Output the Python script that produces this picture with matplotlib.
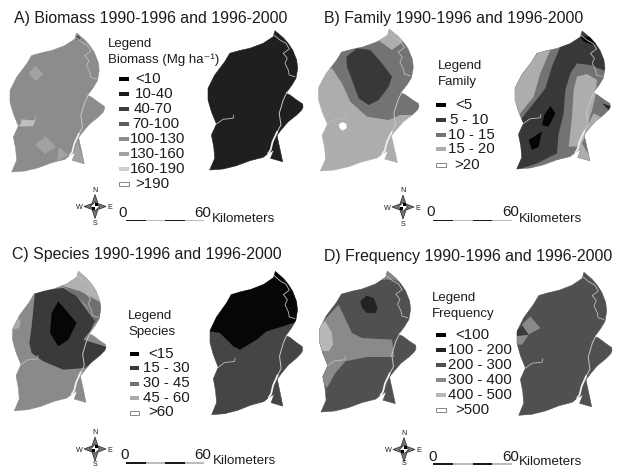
import matplotlib
matplotlib.use("Agg")
import matplotlib.pyplot as plt
from matplotlib.patches import Polygon, Rectangle

plt.rcParams['font.family'] = ['Liberation Sans', 'DejaVu Sans']

# ---- text content
TITLES = ["A) Biomass 1990-1996 and 1996-2000", "B) Family 1990-1996 and 1996-2000",
          "C) Species 1990-1996 and 1996-2000", "D) Frequency 1990-1996 and 1996-2000"]
LEGEND_A = ["<10", "10-40", "40-70", "70-100", "100-130", "130-160", "160-190", ">190"]
LEGEND_B = ["<5", "5 - 10", "10 - 15", "15 - 20", ">20"]
LEGEND_C = ["<15", "15 - 30", "30 - 45", "45 - 60", ">60"]
LEGEND_D = ["<100", "100 - 200", "200 - 300", "300 - 400", "400 - 500", ">500"]

# ---- map geometry (outline and rivers: pixels of the upper right map)
OUTLINE = [(275,30.7),(283.3,37.7),(288,43),(292.7,50),(296.7,60),(297.7,68.3),(296,78.3),(292,85),(288.3,90),(286,93.3),
           (290,95),(296.7,100),(302.7,104),(303,107),(301.7,110),(296.7,115),(288.3,121.7),(281.7,129.3),(277.3,135),
           (277.3,136.7),(280,149),(282.7,161.7),(270.7,158.3),(274,150),(268.3,153.3),(263.3,157.3),(250,160.7),
           (236.7,165.7),(223.3,169),(210,170),(215,158.3),(214,146.7),(211.7,135),(216.7,124),(211.7,111.7),(208.3,100),
           (208.3,88.3),(215,75),(225,61.7),(230,53.3),(240,50.5),(250,48.3),(263.3,43.3),(273.3,36.7)]
RIVER_UP = [(274,35),(280,40),(286,43.3),(289.3,49),(283.3,53.3),(287.3,58.3),(285,63.3),(288.3,70),(289.3,75),(295,76.7)]
RIVER_MID = [(287.3,91.7),(283.3,100),(279.3,113.3),(281,125),(277.3,131.7)]
RIVER_LOW = [(277.3,131.7),(272.7,141.7),(270.7,150),(268.3,153.3)]
RIVER_WEST = [(234,115),(233.3,118.3),(223.3,119.3),(216.7,124)]

# regions: 3x crop units of each panel
A1_DIAMOND_1 = [(107,197),(130,222),(107,243),(85,220)]
A1_DIAMOND_2 = [(137,408),(168,440),(135,462),(105,435)]
A1_DIAMOND_3 = [(176,440),(205,465),(172,482)]
A1_LOBE = [(232,420),(252,490),(215,485)]
A1_TIP = [(235,105),(242,115),(230,122),(226,112)]
A1_LIGHT = [(65,358),(105,362),(100,378),(60,380)]

B1_MID = [(50,215),(90,150),(210,118),(255,150),(295,120),(345,200),(345,345),(280,345),(245,360),
          (180,350),(130,305),(105,250),(75,205)]
B1_DARK = [(118,170),(150,145),(190,150),(225,190),(255,230),(245,260),(215,300),(185,315),(155,295),(135,240),(120,200)]
B1_HOLE = [(107,366),(118,372),(119,384),(107,392),(97,384),(96,372)]

B2_WEST = [(695,155),(730,150),(700,220),(680,290),(640,340),(600,340),(620,260)]
B2_DARK = [(760,140),(820,80),(920,150),(900,215),(850,195),(810,190),(790,220),(775,270),(770,340),(755,400),
           (750,460),(690,490),(600,520),(600,400),(640,360),(680,310),(715,265),(735,200)]
B2_EAST = [(800,270),(810,230),(840,222),(870,240),(865,290),(855,330),(840,380),(825,420),(810,440),(785,440),(795,350)]
B2_EAST_2 = [(860,340),(880,350),(840,400),(825,430),(860,490),(800,490),(810,440)]
B2_TIP = [(820,110),(850,110),(880,125),(860,135),(830,125)]
B2_SPOT_1 = [(730,318),(745,340),(725,380),(705,375),(712,345)]
B2_SPOT_2 = [(705,395),(695,440),(675,450),(665,420)]
B2_LOBE_TIP = [(885,310),(915,320),(905,330)]

C1_TIP = [(190,160),(235,100),(310,110),(305,210),(240,175)]
C1_MID = [(190,160),(240,175),(305,210),(310,245),(285,270),(260,215)]
C1_DARK = [(105,180),(140,170),(190,165),(230,190),(285,265),(270,295),(250,320),(330,345),(300,370),(255,405),
           (190,410),(130,385),(95,360),(88,330),(95,280)]
C1_CORE = [(175,205),(230,270),(205,320),(175,340),(150,300),(155,240)]
C1_WEST = [(50,250),(62,265),(58,285),(40,290)]

C2_TOP = [(630,295),(660,300),(700,340),(720,350),(770,320),(800,295),(880,270),(930,250),(920,90),(600,90)]

D1_TIP = [(215,140),(240,105),(310,105),(295,155),(260,140)]
D1_MID = [(48,265),(95,215),(135,300),(165,315),(255,320),(262,372),(180,372),(115,385),(85,420),(60,465),(20,420),(20,260)]
D1_LIGHT = [(55,265),(75,300),(78,335),(65,355),(25,350),(25,280)]
D1_CORE = [(160,205),(178,188),(200,195),(212,225),(205,240),(180,240),(165,225)]

D2_DIAMOND = [(670,250),(700,285),(665,305),(645,275)]
D2_WEDGE = [(625,310),(665,305),(645,335),(625,335)]
D2_DARK = [(630,290),(645,280),(665,305),(630,308)]

# ---- styling
DARK_TXT = '#1c1c1c'
fig = plt.figure(figsize=(6.17, 4.68), dpi=100)
ax = fig.add_axes([0, 0, 1, 1])
ax.set_xlim(0, 617); ax.set_ylim(468, 0); ax.axis('off')

XS0, YS0 = zip(*OUTLINE)
BX0, BX1, BY0, BY1 = min(XS0), max(XS0), min(YS0), max(YS0)


def to_px(pts, origin):
    return [(origin[0] + x / 3, origin[1] + y / 3) for x, y in pts]


def draw_map(box, base, regions):
    """box (xmin, xmax, ymin, ymax) places the outline; regions hold (points, crop origin, grey)."""
    x0, x1, y0, y1 = box
    def place(pts):
        return [(x0 + (x - BX0) * (x1 - x0) / (BX1 - BX0), y0 + (y - BY0) * (y1 - y0) / (BY1 - BY0)) for x, y in pts]
    clip = Polygon(place(OUTLINE), closed=True, fc=base, ec=base, lw=0.4, joinstyle='round', zorder=2)
    ax.add_patch(clip)
    for pts, origin, grey in regions:
        p = Polygon(to_px(pts, origin), closed=True, fc=grey, ec='none', zorder=3)
        ax.add_patch(p)
        p.set_clip_path(clip)
    for river, lw, col in ((RIVER_UP, 0.6, '#bdbdbd'), (RIVER_MID, 0.7, '#c8c8c8'),
                           (RIVER_WEST, 0.6, '#bdbdbd'), (RIVER_LOW, 1.3, '#f0f0f0')):
        xs, ys = zip(*place(river))
        ax.plot(xs, ys, color=col, lw=lw, zorder=4, solid_capstyle='round')


def draw_legend(head, head_pos, labels, label_xs, ys, sw_x, greys):
    for txt, (x, y) in zip(head, head_pos):
        ax.text(x, y, txt, fontsize=9.5, va='center', ha='left', color=DARK_TXT, zorder=6)
    for lab, lx, y, g in zip(labels, label_xs, ys, greys):
        is_top = g == 'white'
        ax.add_patch(Rectangle((sw_x, y - 2), 9.5, 4, fc=g, ec='#888888' if is_top else 'none', lw=0.7, zorder=5))
        ax.text(lx, y - 0.3, lab, fontsize=10.8, va='center', ha='left', color=DARK_TXT, zorder=6)


def draw_compass(cx, cy, s_dy=17):
    k = '#222222'
    ax.add_patch(Polygon([(cx-11, cy), (cx-3, cy-3), (cx, cy-12), (cx+3, cy-3), (cx+11, cy), (cx+3, cy+3), (cx, cy+12), (cx-3, cy+3)],
                         closed=True, fc='#777777', ec=k, lw=0.5, zorder=5))
    ax.add_patch(Polygon([(cx-4.5, cy), (cx, cy-4.5), (cx+4.5, cy), (cx, cy+4.5)], closed=True, fc='white', ec=k, lw=0.5, zorder=6))
    ax.add_patch(Rectangle((cx-0.3, cy-3.6), 3, 3, fc='black', zorder=7))
    ax.add_patch(Rectangle((cx-2.8, cy+0.4), 3, 3, fc='black', zorder=7))
    for s, dx, dy in (('N', 0, -16), ('S', 0, s_dy), ('W', -15.5, 1), ('E', 15, 1)):
        ax.text(cx + dx, cy + dy, s, fontsize=5.2, ha='center', va='center', color=DARK_TXT, zorder=7)


def draw_scale(x0, x1, y, zero_xy, sixty_xy, km_xy):
    w = (x1 - x0) / 4
    for i, c in enumerate(('#1a1a1a', '#bbbbbb', '#1a1a1a', '#bbbbbb')):
        ax.add_patch(Rectangle((x0 + i * w, y - 0.9), w, 1.8, fc=c, ec='none', zorder=5))
    ax.text(*zero_xy, "0", fontsize=10.8, ha='center', va='center', color=DARK_TXT)
    ax.text(*sixty_xy, "60", fontsize=10.8, ha='center', va='center', color=DARK_TXT)
    ax.text(*km_xy, "Kilometers", fontsize=9.6, ha='left', va='center', color=DARK_TXT)


for t, x, y in zip(TITLES, (14, 324, 12, 324), (18, 18, 255, 256)):
    ax.text(x, y, t, fontsize=11.45, ha='left', va='center', color=DARK_TXT)

OA, OB, OC, OD = (0, 0), (307, 0), (0, 233), (307, 233)
MID_A, LIGHT = '#a2a2a2', '#adadad'

# Panel A
draw_map((10, 104.5, 33, 172), '#8c8c8c', [(A1_DIAMOND_1, OA, MID_A), (A1_DIAMOND_2, OA, MID_A), (A1_DIAMOND_3, OA, MID_A),
                                           (A1_LOBE, OA, MID_A), (A1_TIP, OA, '#555555'), (A1_LIGHT, OA, '#bdbdbd')])
draw_map((208, 303, 30.7, 170), '#1f1f1f', [])
draw_legend(["Legend", "Biomass (Mg ha⁻¹)"], [(108, 44), (108, 60)], LEGEND_A,
            [135, 135, 134, 132.5, 130, 130, 130, 135], [79, 94.3, 109, 124, 139, 154, 169.3, 184.3], 119,
            ['#000000', '#1a1a1a', '#3c3c3c', '#5e5e5e', '#8c8c8c', '#a2a2a2', '#cfcfcf', 'white'])
draw_compass(95, 206.5)
draw_scale(126, 204, 220.5, (123, 213), (203, 213), (212, 219))

# Panel B
draw_map((318.5, 419, 29, 171), LIGHT, [(B1_MID, OB, '#737373'), (B1_DARK, OB, '#383838'), (B1_HOLE, OB, 'white')])
draw_map((515, 610.3, 31, 169), '#737373', [(B2_WEST, OB, LIGHT), (B2_DARK, OB, '#383838'), (B2_EAST, OB, LIGHT),
                                            (B2_EAST_2, OB, LIGHT), (B2_TIP, OB, '#050505'), (B2_SPOT_1, OB, '#050505'),
                                            (B2_SPOT_2, OB, '#050505'), (B2_LOBE_TIP, OB, '#222222')])
draw_legend(["Legend", "Family"], [(438, 66), (438, 82)], LEGEND_B, [455, 450, 448.5, 448.5, 454],
            [105, 120, 135, 149, 165], 436, ['#000000', '#383838', '#737373', LIGHT, 'white'])
draw_compass(403, 207)
draw_scale(433, 512, 220.5, (431, 212), (511, 212), (519, 219))

# Panel C
draw_map((12.7, 106, 271.3, 410.7), '#8a8a8a', [(C1_TIP, OC, '#b0b0b0'), (C1_MID, OC, '#707070'), (C1_DARK, OC, '#3a3a3a'),
                                                (C1_CORE, OC, '#060606'), (C1_WEST, OC, '#aaaaaa')])
draw_map((210, 302.7, 271.3, 414.7), '#454545', [(C2_TOP, OC, '#060606')])
draw_legend(["Legend", "Species"], [(128, 316), (128, 332)], LEGEND_C, [148, 143, 143, 143, 148],
            [354, 368, 383.5, 398, 412.5], 129.5, ['#000000', '#3a3a3a', '#707070', '#aaaaaa', 'white'])
draw_compass(95, 449, s_dy=15)
draw_scale(126, 204, 463, (125, 455), (203, 455), (213, 461))

# Panel D
draw_map((319.3, 416, 271.3, 412), '#505050', [(D1_TIP, OD, '#858585'), (D1_MID, OD, '#8a8a8a'), (D1_LIGHT, OD, '#b8b8b8'),
                                               (D1_CORE, OD, '#222222')])
draw_map((517, 612, 272.3, 415.3), '#505050', [(D2_DIAMOND, OD, '#8a8a8a'), (D2_WEDGE, OD, '#8a8a8a'), (D2_DARK, OD, '#3a3a3a')])
draw_legend(["Legend", "Frequency"], [(432, 298), (432, 314)], LEGEND_D, [455, 448.5, 448.5, 448.5, 448.5, 455],
            [335, 350, 365, 380, 395, 410], 436, ['#000000', '#222222', '#505050', '#8a8a8a', '#b8b8b8', 'white'])
draw_compass(404, 449.5, s_dy=14)
draw_scale(433, 512, 464, (433, 457), (511, 457), (519, 462))

fig.savefig("out.png", dpi=100)
